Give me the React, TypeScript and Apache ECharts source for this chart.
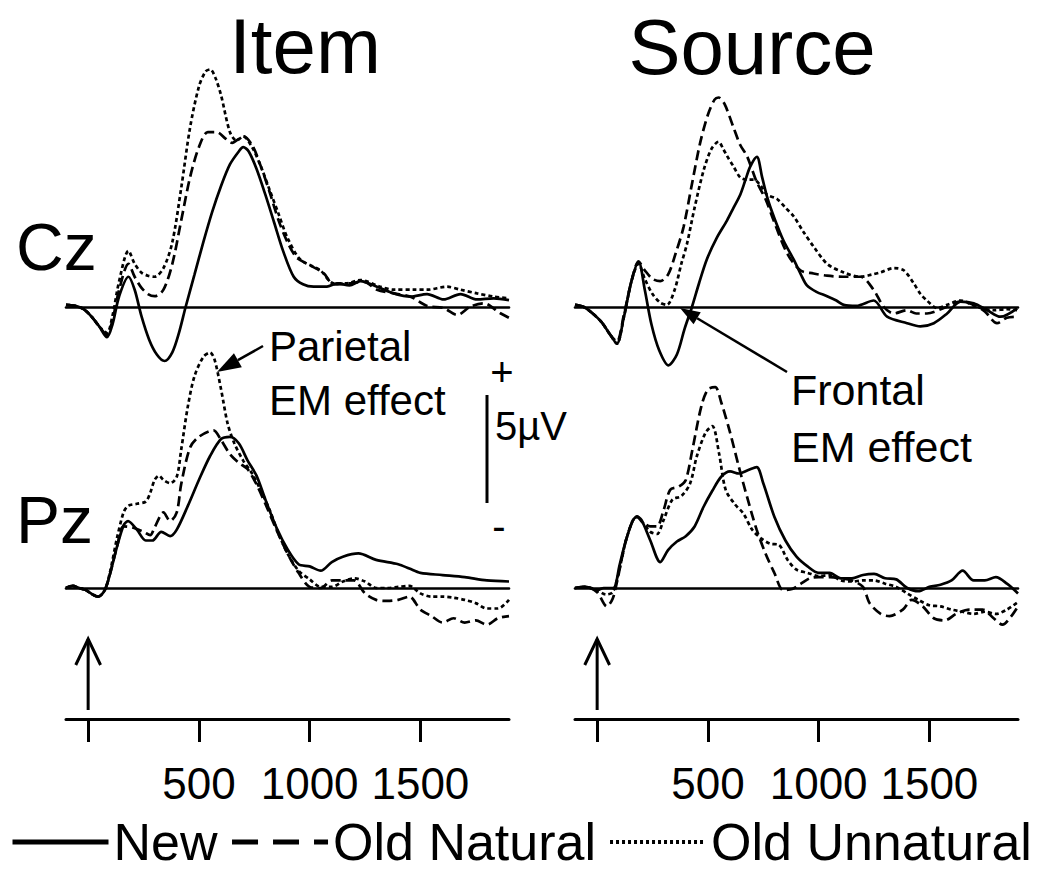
import React, { useEffect, useRef } from 'react';
import * as echarts from 'echarts';

const FONT = '"Liberation Sans", Arial, Helvetica, sans-serif';

// ---------- text / categories ----------
const SERIES_NAMES = ['New', 'Old Natural', 'Old Unnatural'];
const COLUMN_TITLES = ['Item', 'Source'];
const ROW_LABELS = ['Cz', 'Pz'];
const TICK_VALUES = [0, 500, 1000, 1500];
const TICK_LABELS = [500, 1000, 1500];
const TIME_RANGE = [-100, 1900];
const ONSET_MS = 0;
const SCALE_UV = 5;

// ---------- data: [time (ms), amplitude (µV)] ----------
const ITEM_CZ_NEW = [
  [-100, 0.1], [-60, 0.05], [-20, -0.1], [20, -0.5], [50, -0.9], [85, -1.4], [110, -0.8], [140, 0.5],
  [182, 1.4], [210, 0.8], [240, -0.4], [275, -1.5], [310, -2.2], [345, -2.5], [380, -2.1], [410, -1.2],
  [440, 0.0], [480, 1.5], [520, 3.0], [560, 4.4], [600, 5.6], [640, 6.6], [680, 7.2], [700, 7.4],
  [725, 7.2], [760, 6.4], [800, 5.2], [840, 3.9], [880, 2.6], [928, 1.4], [970, 1.05], [1018, 0.94],
  [1078, 0.94], [1123, 1.09], [1180, 1.0], [1229, 1.2], [1304, 0.94], [1380, 0.63], [1455, 0.48],
  [1530, 0.6], [1605, 0.35], [1681, 0.6], [1756, 0.35], [1831, 0.4], [1900, 0.32],
];
const ITEM_CZ_OLD_NATURAL = [
  [-100, 0.1], [-60, 0.05], [-20, -0.1], [20, -0.5], [50, -0.9], [85, -1.3], [110, -0.6], [140, 0.8],
  [182, 2.0], [210, 1.4], [240, 0.9], [270, 0.6], [300, 0.5], [340, 0.8], [380, 2.0], [420, 4.0],
  [460, 6.0], [500, 7.4], [540, 8.1], [580, 8.1], [620, 7.8], [650, 7.6], [700, 7.9], [740, 7.5],
  [780, 6.5], [820, 5.3], [860, 4.0], [900, 3.0], [940, 2.3], [988, 2.0], [1063, 1.57], [1108, 1.05],
  [1184, 1.1], [1244, 1.17], [1304, 0.8], [1380, 0.63], [1455, 0.48], [1530, 0.05], [1605, -0.05],
  [1666, -0.37], [1726, 0.02], [1786, 0.17], [1861, -0.29], [1900, -0.5],
];
const ITEM_CZ_OLD_UNNATURAL = [
  [-100, 0.1], [-60, 0.05], [-20, -0.1], [20, -0.5], [50, -0.9], [85, -1.2], [110, -0.4], [140, 1.2],
  [182, 2.6], [210, 2.0], [240, 1.6], [270, 1.45], [300, 1.4], [340, 1.8], [380, 3.0], [420, 5.5],
  [460, 8.3], [500, 10.2], [530, 10.9], [551, 11.0], [575, 10.6], [600, 9.8], [640, 8.1], [670, 7.7],
  [700, 7.9], [740, 7.4], [780, 6.5], [820, 5.4], [860, 4.3], [900, 3.2], [958, 2.2], [1048, 1.7],
  [1108, 1.1], [1169, 1.1], [1229, 1.25], [1319, 0.94], [1380, 0.8], [1470, 0.8], [1530, 0.8],
  [1620, 0.94], [1681, 0.8], [1756, 0.63], [1831, 0.48], [1900, 0.4],
];

const SOURCE_CZ_NEW = [
  [-100, 0.1], [-60, 0.0], [-20, -0.3], [20, -0.7], [60, -1.3], [89, -1.7], [120, -0.5], [155, 1.2],
  [187, 2.1], [215, 0.8], [245, -0.8], [280, -2.0], [322, -2.7], [360, -2.2], [395, -1.0], [428, 0.0],
  [460, 1.1], [495, 2.2], [540, 3.2], [586, 4.0], [616, 4.6], [646, 5.2], [670, 5.9], [691, 6.5],
  [721, 6.95], [745, 6.0], [770, 5.0], [797, 4.2], [840, 3.1], [887, 2.2], [920, 1.5], [947, 1.0],
  [990, 0.7], [1038, 0.5], [1080, 0.3], [1113, 0.1], [1170, 0.05], [1248, 0.3], [1309, -0.45],
  [1399, -0.75], [1459, -0.9], [1520, -0.75], [1580, -0.3], [1640, 0.25], [1700, 0.17], [1760, -0.14],
  [1821, -0.45], [1896, -0.06],
];
const SOURCE_CZ_OLD_NATURAL = [
  [-100, 0.1], [-60, 0.0], [-20, -0.3], [20, -0.7], [60, -1.3], [89, -1.6], [120, -0.4], [155, 1.2],
  [187, 2.1], [215, 1.7], [250, 1.3], [285, 1.2], [320, 1.5], [355, 2.5], [390, 3.7], [430, 5.8],
  [465, 7.6], [500, 8.9], [530, 9.6], [548, 9.7], [575, 9.4], [616, 8.3], [646, 7.5], [676, 7.0],
  [720, 5.8], [760, 5.0], [797, 4.0], [857, 2.5], [917, 1.7], [977, 1.55], [1038, 1.45], [1110, 1.4],
  [1189, 1.4], [1248, 0.8], [1294, 0.0], [1339, -0.3], [1399, -0.15], [1440, -0.3], [1489, -0.3],
  [1565, -0.05], [1640, 0.25], [1700, 0.1], [1750, -0.2], [1805, -0.75], [1850, -0.5], [1896, -0.45],
];
const SOURCE_CZ_OLD_UNNATURAL = [
  [-100, 0.1], [-60, 0.0], [-20, -0.3], [20, -0.7], [60, -1.3], [89, -1.7], [120, -0.5], [155, 1.2],
  [187, 2.0], [215, 1.3], [250, 0.6], [285, 0.2], [315, 0.1], [350, 0.8], [380, 2.0], [405, 2.9],
  [440, 4.6], [480, 6.3], [515, 7.3], [548, 7.65], [570, 7.3], [586, 7.0], [616, 6.5], [646, 6.0],
  [676, 5.9], [706, 5.9], [740, 5.6], [767, 5.2], [812, 5.0], [850, 4.6], [887, 4.2], [930, 3.5],
  [977, 2.8], [1038, 2.0], [1113, 1.6], [1189, 1.4], [1240, 1.5], [1279, 1.6], [1339, 1.8], [1384, 1.7],
  [1429, 1.1], [1460, 0.6], [1489, 0.3], [1535, -0.05], [1580, 0.1], [1640, 0.3], [1716, 0.0],
  [1790, -0.15], [1850, -0.1], [1896, -0.15],
];

const ITEM_PZ_NEW = [
  [-100, 0.0], [-70, 0.1], [-40, 0.0], [-10, -0.1], [20, -0.3], [45, -0.4], [75, -0.1], [100, 0.7],
  [130, 1.9], [160, 2.9], [180, 3.1], [220, 2.7], [260, 2.2], [290, 2.2], [330, 2.6], [370, 2.4],
  [400, 2.7], [450, 3.8], [500, 5.0], [550, 6.1], [600, 6.9], [640, 7.0], [680, 6.7], [720, 5.9],
  [760, 5.2], [800, 4.1], [850, 2.8], [900, 1.8], [950, 1.1], [1000, 1.0], [1050, 0.8], [1100, 1.2],
  [1150, 1.45], [1220, 1.6], [1300, 1.3], [1400, 1.1], [1450, 0.9], [1500, 0.7], [1600, 0.6],
  [1700, 0.5], [1800, 0.35], [1900, 0.3],
];
const ITEM_PZ_OLD_NATURAL = [
  [-100, 0.0], [-70, 0.1], [-40, 0.0], [-10, -0.1], [20, -0.3], [45, -0.4], [75, -0.1], [100, 0.7],
  [130, 1.9], [160, 2.85], [200, 2.8], [250, 2.6], [280, 2.45], [300, 2.8], [340, 3.5], [370, 3.1],
  [400, 3.5], [420, 4.8], [460, 6.5], [500, 7.0], [566, 7.3], [600, 6.85], [640, 6.2], [680, 5.8],
  [720, 5.5], [760, 4.8], [800, 3.9], [850, 2.7], [900, 1.6], [950, 0.7], [1000, 0.05], [1050, 0.0],
  [1100, 0.35], [1150, 0.35], [1200, 0.35], [1250, -0.25], [1300, -0.55], [1350, -0.6], [1400, -0.55],
  [1450, -0.4], [1500, -1.0], [1550, -1.3], [1600, -1.6], [1650, -1.4], [1700, -1.6], [1750, -1.5],
  [1800, -1.7], [1850, -1.4], [1900, -1.3],
];
const ITEM_PZ_OLD_UNNATURAL = [
  [-100, 0.0], [-70, 0.1], [-40, 0.0], [-10, -0.1], [20, -0.3], [45, -0.4], [75, -0.1], [100, 0.8],
  [130, 2.3], [160, 3.5], [180, 3.8], [220, 3.9], [260, 4.0], [280, 4.4], [300, 5.0], [320, 5.2],
  [340, 5.0], [370, 4.85], [400, 5.15], [420, 6.4], [450, 8.4], [480, 9.8], [520, 10.7], [550, 10.9],
  [570, 10.6], [600, 9.2], [630, 7.6], [660, 6.7], [700, 5.9], [740, 5.3], [780, 4.5], [820, 3.6],
  [860, 2.5], [900, 1.6], [950, 0.8], [1000, 0.4], [1050, 0.05], [1100, 0.05], [1150, 0.3], [1200, 0.45],
  [1250, 0.3], [1300, 0.0], [1350, 0.0], [1400, 0.05], [1450, 0.1], [1500, -0.25], [1550, -0.4],
  [1600, -0.4], [1650, -0.45], [1700, -0.55], [1750, -0.7], [1800, -0.95], [1850, -0.95], [1900, -0.55],
];

const SOURCE_PZ_NEW = [
  [-100, 0.0], [-50, 0.05], [0, -0.1], [30, 0.0], [60, 0.0], [80, 0.05], [100, 1.0], [130, 2.2],
  [160, 3.1], [180, 3.3], [200, 3.15], [240, 2.2], [285, 1.2], [320, 1.75], [360, 2.15], [400, 2.4],
  [440, 2.85], [480, 3.75], [520, 4.5], [560, 5.15], [600, 5.4], [640, 5.3], [680, 5.45], [720, 5.6],
  [750, 4.85], [800, 3.3], [850, 2.2], [900, 1.45], [950, 1.0], [1000, 0.7], [1050, 0.7], [1100, 0.45],
  [1150, 0.45], [1200, 0.6], [1250, 0.65], [1300, 0.45], [1350, 0.4], [1400, 0.0], [1450, -0.15],
  [1500, 0.05], [1550, 0.15], [1600, 0.35], [1650, 0.8], [1700, 0.35], [1750, 0.35], [1800, 0.5],
  [1850, 0.2], [1900, -0.25],
];
const SOURCE_PZ_OLD_NATURAL = [
  [-100, 0.0], [-50, 0.05], [0, -0.2], [44, -0.85], [70, -0.5], [90, 0.3], [110, 1.3], [130, 2.2],
  [160, 3.1], [180, 3.3], [200, 3.1], [240, 2.85], [270, 2.85], [300, 3.6], [330, 4.55], [370, 4.7],
  [400, 5.0], [430, 6.4], [470, 8.4], [500, 9.2], [533, 9.3], [560, 8.6], [600, 7.2], [640, 5.6],
  [680, 4.1], [720, 2.7], [760, 1.6], [800, 0.7], [840, -0.1], [880, -0.05], [920, 0.2], [960, 0.45],
  [1000, 0.5], [1050, 0.5], [1100, 0.45], [1150, 0.35], [1200, 0.05], [1230, -0.7], [1280, -1.2],
  [1320, -1.3], [1380, -1.0], [1420, -0.55], [1470, -0.85], [1520, -1.4], [1570, -1.5], [1620, -1.2],
  [1680, -1.0], [1740, -1.0], [1790, -1.4], [1830, -1.7], [1870, -1.3], [1900, -0.85],
];
const SOURCE_PZ_OLD_UNNATURAL = [
  [-100, 0.0], [-50, 0.05], [0, -0.1], [40, -0.3], [70, -0.2], [90, 0.4], [110, 1.3], [130, 2.2],
  [160, 3.1], [180, 3.3], [200, 3.1], [240, 2.6], [270, 2.5], [300, 3.15], [340, 4.1], [380, 4.25],
  [420, 4.85], [450, 6.1], [490, 7.2], [520, 7.5], [550, 6.25], [580, 4.55], [620, 3.9], [660, 3.45],
  [700, 2.7], [740, 2.3], [780, 2.05], [820, 2.0], [860, 1.3], [900, 0.85], [950, 0.7], [1000, 0.55],
  [1050, 0.6], [1100, 0.35], [1150, 0.3], [1200, 0.35], [1250, 0.35], [1300, 0.2], [1350, 0.05],
  [1400, -0.25], [1450, -0.55], [1500, -0.8], [1550, -0.85], [1600, -1.0], [1650, -1.1], [1700, -1.2],
  [1750, -1.1], [1800, -1.2], [1850, -1.0], [1900, -0.65],
];

// ---------- layout constants ----------
const PX_PER_UV = 21.6;
const COL_LEFT = [66, 575];
const PANEL_W = 443;
const ROW_BASELINE = [307, 588];
const ROW_RANGE = [[-4, 12], [-3, 12]];
const AXIS_TOP = 629;
const AXIS_H = 90;

const PANELS = [
  { col: 0, row: 0, lines: [ITEM_CZ_NEW, ITEM_CZ_OLD_NATURAL, ITEM_CZ_OLD_UNNATURAL] },
  { col: 1, row: 0, lines: [SOURCE_CZ_NEW, SOURCE_CZ_OLD_NATURAL, SOURCE_CZ_OLD_UNNATURAL] },
  { col: 0, row: 1, lines: [ITEM_PZ_NEW, ITEM_PZ_OLD_NATURAL, ITEM_PZ_OLD_UNNATURAL] },
  { col: 1, row: 1, lines: [SOURCE_PZ_NEW, SOURCE_PZ_OLD_NATURAL, SOURCE_PZ_OLD_UNNATURAL] },
];

const LINE_TYPES: any[] = ['solid', [10, 5], [4, 3]];

function text(x: number, y: number, str: string, size: number, align = 'left') {
  return {
    type: 'text',
    x,
    y,
    silent: true,
    style: {
      text: str,
      font: `${size}px ${FONT}`,
      fill: '#000',
      textAlign: align,
      textVerticalAlign: 'middle',
    },
  };
}

function arrow(x1: number, y1: number, tx: number, ty: number, headLen: number, halfW: number) {
  const dx = tx - x1;
  const dy = ty - y1;
  const len = Math.sqrt(dx * dx + dy * dy);
  const ux = dx / len;
  const uy = dy / len;
  const bx = tx - ux * headLen;
  const by = ty - uy * headLen;
  const px = -uy * halfW;
  const py = ux * halfW;
  return [
    { type: 'line', silent: true, shape: { x1, y1, x2: bx, y2: by }, style: { stroke: '#000', lineWidth: 2.5 } },
    {
      type: 'polygon',
      silent: true,
      shape: { points: [[tx, ty], [bx + px, by + py], [bx - px, by - py]] },
      style: { fill: '#000' },
    },
  ];
}

export default function App() {
  const ref = useRef<HTMLDivElement>(null);

  useEffect(() => {
    const chart = echarts.init(ref.current!, null, { renderer: 'svg' });

    const grid: any[] = [];
    const xAxis: any[] = [];
    const yAxis: any[] = [];
    const series: any[] = [];

    PANELS.forEach((p, i) => {
      const [mn, mx] = ROW_RANGE[p.row];
      grid.push({
        left: COL_LEFT[p.col],
        top: ROW_BASELINE[p.row] - mx * PX_PER_UV,
        width: PANEL_W,
        height: (mx - mn) * PX_PER_UV,
        containLabel: false,
      });
      xAxis.push({
        gridIndex: i,
        type: 'value',
        min: TIME_RANGE[0],
        max: TIME_RANGE[1],
        axisLine: { show: true, onZero: true, lineStyle: { color: '#000', width: 2.6 } },
        axisTick: { show: false },
        axisLabel: { show: false },
        splitLine: { show: false },
      });
      yAxis.push({
        gridIndex: i,
        type: 'value',
        min: mn,
        max: mx,
        show: false,
        splitLine: { show: false },
      });
      p.lines.forEach((d, k) => {
        series.push({
          type: 'line',
          name: SERIES_NAMES[k],
          xAxisIndex: i,
          yAxisIndex: i,
          data: d,
          symbol: 'none',
          smooth: 0.3,
          silent: true,
          z: 3,
          lineStyle: { color: '#000', width: 2.7, type: LINE_TYPES[k] },
        });
      });
    });

    // bottom time axes
    [0, 1].forEach((c) => {
      const gi = grid.length;
      grid.push({ left: COL_LEFT[c], top: AXIS_TOP, width: PANEL_W, height: AXIS_H, containLabel: false });
      xAxis.push({
        gridIndex: gi,
        type: 'value',
        min: TIME_RANGE[0],
        max: TIME_RANGE[1],
        position: 'bottom',
        axisLine: { show: true, onZero: false, lineStyle: { color: '#000', width: 3 } },
        axisTick: {
          show: true,
          customValues: TICK_VALUES,
          length: 23,
          lineStyle: { color: '#000', width: 3 },
        },
        axisLabel: {
          show: true,
          customValues: TICK_LABELS,
          formatter: (v: number) => String(v),
          fontSize: 44,
          fontFamily: FONT,
          color: '#000',
          margin: 42,
        },
        splitLine: { show: false },
      });
      yAxis.push({ gridIndex: gi, type: 'value', min: 0, max: AXIS_H, show: false, splitLine: { show: false } });
      // stimulus onset arrow
      series.push({
        type: 'line',
        name: 'onset',
        xAxisIndex: gi,
        yAxisIndex: gi,
        data: [[ONSET_MS, 9], [ONSET_MS, 80]],
        symbol: 'none',
        silent: true,
        lineStyle: { color: '#000', width: 3 },
      });
      series.push({
        type: 'line',
        name: 'onset head',
        xAxisIndex: gi,
        yAxisIndex: gi,
        data: [[ONSET_MS - 56, 54], [ONSET_MS, 80], [ONSET_MS + 56, 54]],
        symbol: 'none',
        silent: true,
        lineStyle: { color: '#000', width: 3, join: 'miter' },
      });
    });

    const scaleTop = 395;
    const graphic: any[] = [
      text(305, 46, COLUMN_TITLES[0], 78, 'center'),
      text(752, 47, COLUMN_TITLES[1], 78, 'center'),
      text(16, 247, ROW_LABELS[0], 66),
      text(16, 520, ROW_LABELS[1], 66),
      text(269, 346, 'Parietal', 42),
      text(269, 400, 'EM effect', 42),
      text(791, 390, 'Frontal', 43),
      text(791, 447, 'EM effect', 43),
      text(502, 372, '+', 40, 'center'),
      text(495, 426, `${SCALE_UV}µV`, 40),
      text(499, 526, '-', 40, 'center'),
      {
        type: 'line',
        silent: true,
        shape: { x1: 487, y1: scaleTop, x2: 487, y2: scaleTop + SCALE_UV * PX_PER_UV },
        style: { stroke: '#000', lineWidth: 3 },
      },
      ...arrow(263, 346, 217, 372, 24, 8),
      ...arrow(787, 372, 680, 308, 20, 7),
    ];

    chart.setOption({
      animation: false,
      backgroundColor: '#fff',
      grid,
      xAxis,
      yAxis,
      series,
      legend: {
        left: 10,
        top: 816,
        padding: 0,
        itemWidth: 96,
        itemHeight: 14,
        itemGap: 12,
        selectedMode: false,
        textStyle: { fontSize: 52, lineHeight: 52, color: '#000', fontFamily: FONT },
        itemStyle: { color: 'rgba(0,0,0,0)', borderColor: 'rgba(0,0,0,0)', borderWidth: 0 },
        data: [
          { name: SERIES_NAMES[0], lineStyle: { color: '#000', width: 5, type: 'solid' } },
          { name: SERIES_NAMES[1], lineStyle: { color: '#000', width: 5, type: [26, 15] } },
          { name: SERIES_NAMES[2], lineStyle: { color: '#000', width: 4, type: [3, 3] } },
        ],
      },
      graphic,
    });

    return () => chart.dispose();
  }, []);

  return (
    <div
      ref={ref}
      style={{ position: 'fixed', left: 0, top: 0, width: 1053, height: 875, background: '#fff' }}
    />
  );
}
